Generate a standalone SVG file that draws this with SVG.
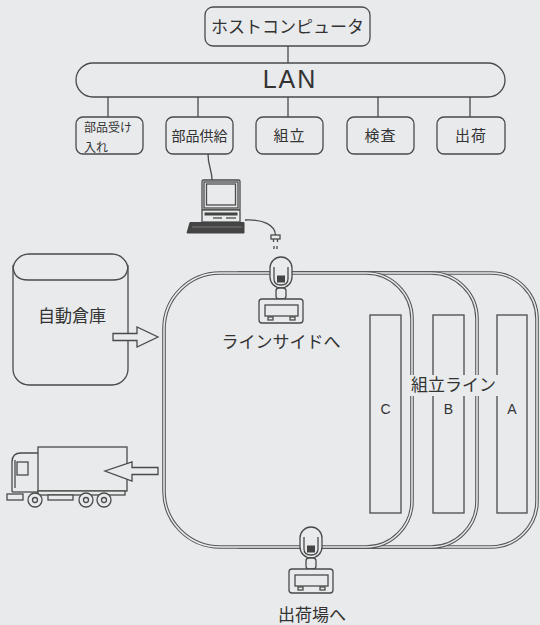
<svg xmlns="http://www.w3.org/2000/svg" width="540" height="625" viewBox="0 0 540 625">
  <style>
    .ln { fill: none; stroke: #4a4a4a; stroke-width: 1.3; }
    .bx { fill: #e8eaec; stroke: #4a4a4a; stroke-width: 1.3; }
    .dk { fill: #444; stroke: #444; stroke-width: 1; }
    .rail { fill: #e8eaec; stroke: #555; stroke-width: 3.6; }
    .rail2 { fill: none; stroke: #e8eaec; stroke-width: 1.5; }
    .t { font-family: "Noto Sans CJK JP", "Noto Sans", sans-serif; fill: #333; }
    .l { font-family: "Liberation Sans", Arial, sans-serif; fill: #333; }
  </style>
  <defs>
    <!-- automated guided vehicle, drawn around its head centre -->
    <g id="agv">
      <rect class="bx" x="-11" y="0" width="22" height="31" rx="11"/>
      <path class="ln" d="M-7,10 L-7,22 Q-7,28 0,28 Q7,28 7,22 L7,10" stroke-width="1"/>
      <rect class="dk" x="-3.5" y="19" width="7" height="6"/>
      <rect class="bx" x="-5" y="31" width="10" height="11" rx="3"/>
      <rect class="bx" x="-22" y="42" width="44" height="24" rx="3"/>
      <rect class="bx" x="-16" y="48" width="33" height="11"/>
      <rect class="ln" x="-13" y="60" width="5" height="3" stroke-width="1"/>
      <rect class="ln" x="9" y="60" width="5" height="3" stroke-width="1"/>
    </g>
  </defs>

  <rect x="0" y="0" width="540" height="625" fill="#e8eaec"/>

  <!-- network connectors -->
  <g id="connectors">
    <line class="ln" x1="288" y1="46" x2="288" y2="63"/>
    <line class="ln" x1="108" y1="97" x2="108" y2="117"/>
    <line class="ln" x1="198" y1="97" x2="198" y2="117"/>
    <line class="ln" x1="288" y1="97" x2="288" y2="117"/>
    <line class="ln" x1="378" y1="97" x2="378" y2="117"/>
    <line class="ln" x1="470" y1="97" x2="470" y2="117"/>
    <path class="ln" d="M208,154 C208,166 212,170 212,180"/>
    <path class="ln" d="M245,220 C263,219 275,225 275.5,235"/>
  </g>

  <g id="host">
    <rect class="bx" x="205" y="7" width="165" height="39" rx="8"/>
    <text class="t" x="287.5" y="33" font-size="17" text-anchor="middle">ホストコンピュータ</text>
  </g>

  <g id="lan">
    <rect class="bx" x="76" y="63" width="429" height="34" rx="17"/>
    <text class="l" x="290" y="88" font-size="25" letter-spacing="2" text-anchor="middle">LAN</text>
  </g>

  <g id="receiving">
    <rect class="bx" x="76" y="117" width="67" height="37" rx="7"/>
    <text class="t" x="84" y="132" font-size="12">部品受け</text>
    <text class="t" x="84" y="151.5" font-size="12">入れ</text>
  </g>
  <g id="supply">
    <rect class="bx" x="166" y="117" width="67" height="37" rx="7"/>
    <text class="t" x="199.5" y="141" font-size="14" text-anchor="middle">部品供給</text>
  </g>
  <g id="assembly">
    <rect class="bx" x="256" y="117" width="67" height="37" rx="7"/>
    <text class="t" x="289.5" y="141" font-size="15" letter-spacing="1" text-anchor="middle">組立</text>
  </g>
  <g id="inspection">
    <rect class="bx" x="347" y="117" width="67" height="37" rx="7"/>
    <text class="t" x="380.5" y="141" font-size="15" letter-spacing="1" text-anchor="middle">検査</text>
  </g>
  <g id="shipping">
    <rect class="bx" x="437" y="117" width="68" height="37" rx="7"/>
    <text class="t" x="471" y="141" font-size="15" letter-spacing="1" text-anchor="middle">出荷</text>
  </g>

  <!-- terminal at the parts supply station -->
  <g id="terminal">
    <rect class="bx" x="202" y="180" width="38" height="30" rx="1.5"/>
    <rect class="ln" x="204" y="182" width="34" height="26" stroke-width="0.8"/>
    <rect class="bx" x="206.5" y="184" width="29" height="21"/>
    <rect class="bx" x="202" y="210" width="38" height="12"/>
    <rect class="dk" x="205" y="213" width="32" height="2"/>
    <line class="ln" x1="213" y1="218" x2="222" y2="218" stroke-width="1"/>
    <line class="ln" x1="226" y1="218" x2="236" y2="218" stroke-width="1"/>
    <polygon class="dk" points="190,222.5 244,222.5 244,233 187,233"/>
    <line x1="192" y1="227" x2="242" y2="227" stroke="#888" stroke-width="0.8"/>
    <rect class="bx" x="271" y="235" width="9" height="4" stroke-width="1"/>
    <line class="ln" x1="273.5" y1="239" x2="273.5" y2="242" stroke-width="1"/>
    <line class="ln" x1="277.5" y1="239" x2="277.5" y2="242" stroke-width="1"/>
    <line class="ln" x1="274" y1="246" x2="274" y2="249" stroke-width="0.8"/>
    <line class="ln" x1="277" y1="246" x2="277" y2="249" stroke-width="0.8"/>
  </g>

  <!-- assembly line loops, back to front -->
  <g id="loop-a">
    <path class="rail" d="M300,273 L491,273 A46,46 0 0 1 537,319 L537,501 A46,46 0 0 1 491,547 L300,547 Z"/>
    <path class="rail2" d="M300,273 L491,273 A46,46 0 0 1 537,319 L537,501 A46,46 0 0 1 491,547 L300,547"/>
    <rect class="ln" x="497" y="315" width="30" height="198"/>
    <text class="l" x="512" y="414" font-size="14" text-anchor="middle">A</text>
  </g>
  <g id="loop-b">
    <path class="rail" d="M240,273 L431,273 A46,46 0 0 1 477,319 L477,501 A46,46 0 0 1 431,547 L240,547 Z"/>
    <path class="rail2" d="M240,273 L431,273 A46,46 0 0 1 477,319 L477,501 A46,46 0 0 1 431,547 L240,547"/>
    <rect class="ln" x="433" y="315" width="31" height="198"/>
    <text class="l" x="448.5" y="414" font-size="14" text-anchor="middle">B</text>
  </g>
  <g id="loop-c">
    <path class="rail" d="M220,273 L366,273 A46,46 0 0 1 412,319 L412,501 A46,46 0 0 1 366,547 L220,547 A56,56 0 0 1 164,491 L164,329 A56,56 0 0 1 220,273 Z"/>
    <path class="rail2" d="M220,273 L366,273 A46,46 0 0 1 412,319 L412,501 A46,46 0 0 1 366,547 L220,547 A56,56 0 0 1 164,491 L164,329 A56,56 0 0 1 220,273 Z"/>
    <rect class="ln" x="370" y="315" width="31" height="198"/>
    <text class="l" x="385.5" y="414" font-size="14" text-anchor="middle">C</text>
  </g>
  <g id="line-label">
    <rect x="407" y="375" width="93" height="21" fill="#e8eaec"/>
    <text class="t" x="453.5" y="391" font-size="17" text-anchor="middle">組立ライン</text>
  </g>

  <g id="agv-lineside">
    <use href="#agv" x="281" y="257"/>
    <text class="t" x="281" y="348" font-size="17" text-anchor="middle">ラインサイドへ</text>
  </g>
  <g id="agv-shipping">
    <use href="#agv" x="311" y="527"/>
    <text class="t" x="312" y="621" font-size="17" text-anchor="middle">出荷場へ</text>
  </g>

  <g id="warehouse">
    <rect class="bx" x="13" y="254" width="115" height="131" rx="16"/>
    <path class="ln" d="M13,265 Q13,280 28,280 L113,280 Q128,280 128,265"/>
    <text class="t" x="72" y="322" font-size="17" text-anchor="middle">自動倉庫</text>
    <path class="bx" d="M113,333.5 L137,333.5 L137,327 L158,337 L137,347 L137,340.5 L113,340.5 Z"/>
  </g>

  <g id="truck">
    <rect class="bx" x="38" y="447" width="89" height="44"/>
    <path class="ln" d="M12,492 L12,462 Q12,453 21,453 L38,453"/>
    <line class="ln" x1="15" y1="460" x2="15" y2="488" stroke-width="0.9"/>
    <rect class="ln" x="17" y="462" width="11" height="13"/>
    <line class="ln" x1="12" y1="492" x2="38" y2="492"/>
    <rect class="bx" x="38" y="491" width="87" height="4"/>
    <rect class="bx" x="7" y="494" width="16" height="6"/>
    <rect class="bx" x="48" y="495" width="25" height="5"/>
    <circle class="bx" cx="35" cy="500" r="7"/>
    <circle class="ln" cx="35" cy="500" r="2.5"/>
    <circle class="bx" cx="86" cy="500" r="7"/>
    <circle class="ln" cx="86" cy="500" r="2.5"/>
    <circle class="bx" cx="104" cy="500" r="7"/>
    <circle class="ln" cx="104" cy="500" r="2.5"/>
    <path class="bx" d="M158,467.5 L132,467.5 L132,462 L105,471 L132,481 L132,474.5 L158,474.5 Z"/>
  </g>
</svg>
